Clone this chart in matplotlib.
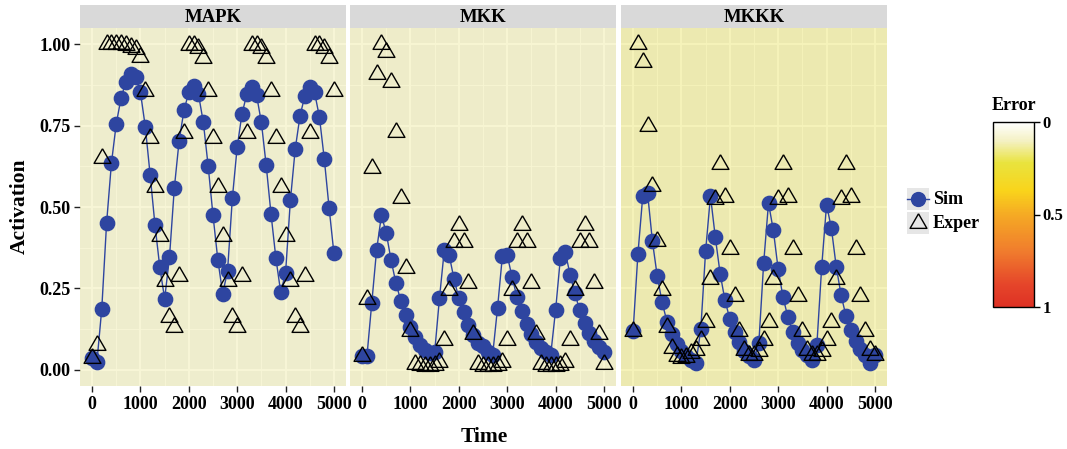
import numpy as np
import matplotlib
matplotlib.use("Agg")
import matplotlib.pyplot as plt
from matplotlib.colors import LinearSegmentedColormap, Normalize
from matplotlib.patches import Rectangle
from matplotlib.lines import Line2D
from matplotlib.cm import ScalarMappable

# sampling grid (every 100 time units)
time = np.arange(0, 5100, 100)

panel_names = ["MAPK", "MKK", "MKKK"]
panel_error = [0.12, 0.125, 0.17]

mapk_sim = [0.036, 0.024, 0.187, 0.451, 0.635, 0.756, 0.836, 0.885, 0.908, 0.900,
            0.852, 0.747, 0.599, 0.445, 0.315, 0.218, 0.345, 0.558, 0.704, 0.797,
            0.853, 0.872, 0.846, 0.760, 0.626, 0.474, 0.338, 0.234, 0.302, 0.527,
            0.684, 0.787, 0.847, 0.870, 0.844, 0.760, 0.628, 0.478, 0.343, 0.238,
            0.297, 0.520, 0.678, 0.781, 0.842, 0.869, 0.852, 0.777, 0.649, 0.498, 0.358]
mapk_exp = [0.035, 0.075, 0.650, 1.000, 1.000, 1.000, 1.000, 0.997, 0.993, 0.985,
            0.960, 0.857, 0.711, 0.561, 0.412, 0.274, 0.163, 0.130, 0.287, 0.727,
            0.999, 0.997, 0.990, 0.957, 0.857, 0.711, 0.561, 0.412, 0.274, 0.163,
            0.130, 0.287, 0.727, 0.999, 0.997, 0.990, 0.957, 0.857, 0.711, 0.561,
            0.412, 0.274, 0.163, 0.130, 0.287, 0.727, 0.999, 0.997, 0.990, 0.957, 0.857]

mkk_sim = [0.041, 0.041, 0.205, 0.368, 0.474, 0.420, 0.336, 0.266, 0.212, 0.167,
           0.130, 0.100, 0.077, 0.061, 0.051, 0.053, 0.220, 0.368, 0.353, 0.279,
           0.220, 0.176, 0.138, 0.107, 0.082, 0.072, 0.056, 0.046, 0.189, 0.348,
           0.353, 0.285, 0.225, 0.179, 0.140, 0.110, 0.084, 0.067, 0.053, 0.046,
           0.182, 0.343, 0.363, 0.292, 0.235, 0.182, 0.143, 0.113, 0.087, 0.070, 0.056]
mkk_exp = [0.043, 0.218, 0.619, 0.908, 1.000, 0.977, 0.883, 0.730, 0.529, 0.312,
           0.118, 0.017, 0.013, 0.010, 0.010, 0.015, 0.025, 0.092, 0.245, 0.392,
           0.445, 0.392, 0.268, 0.110, 0.017, 0.012, 0.010, 0.010, 0.015, 0.025,
           0.092, 0.245, 0.392, 0.445, 0.392, 0.268, 0.110, 0.017, 0.012, 0.010,
           0.010, 0.015, 0.025, 0.092, 0.245, 0.392, 0.445, 0.392, 0.268, 0.110, 0.017]

mkkk_sim = [0.118, 0.356, 0.534, 0.542, 0.394, 0.287, 0.207, 0.148, 0.110, 0.079,
            0.058, 0.043, 0.031, 0.020, 0.125, 0.366, 0.534, 0.407, 0.295, 0.213,
            0.156, 0.115, 0.084, 0.059, 0.043, 0.031, 0.082, 0.328, 0.512, 0.428,
            0.309, 0.223, 0.162, 0.116, 0.082, 0.061, 0.046, 0.031, 0.077, 0.317,
            0.507, 0.435, 0.317, 0.230, 0.166, 0.121, 0.089, 0.064, 0.046, 0.020, 0.046]
mkkk_exp = [0.120, 1.000, 0.945, 0.750, 0.563, 0.397, 0.246, 0.131, 0.067, 0.043,
            0.036, 0.040, 0.050, 0.060, 0.092, 0.148, 0.280, 0.525, 0.632, 0.532,
            0.370, 0.227, 0.118, 0.061, 0.046, 0.045, 0.058, 0.092, 0.148, 0.280,
            0.525, 0.632, 0.532, 0.370, 0.227, 0.118, 0.061, 0.046, 0.045, 0.058,
            0.092, 0.148, 0.280, 0.525, 0.632, 0.532, 0.370, 0.227, 0.118, 0.061, 0.046]

sims = [mapk_sim, mkk_sim, mkkk_sim]
exps = [mapk_exp, mkk_exp, mkkk_exp]

plt.rcParams['font.family'] = ['Liberation Serif', 'DejaVu Serif']
plt.rcParams['font.weight'] = 'bold'

err_cmap = LinearSegmentedColormap.from_list(
    'err', [(0.0, '#FFFFFF'), (0.1, '#F4F1C4'), (0.22, '#E9E33E'), (0.37, '#F9D41B'),
            (0.5, '#F5AA24'), (0.7, '#F07C2D'), (0.88, '#E5452A'), (1.0, '#DE3124')])

W, H = 1067, 449
fig = plt.figure(figsize=(W / 100, H / 100), dpi=100)

blue = '#2E45A0'
tri = [(0, 0.577), (-0.5, -0.289), (0.5, -0.289), (0, 0.577)]
lefts = [80, 350, 621]
pw = 266

for i, name in enumerate(panel_names):
    ax = fig.add_axes([lefts[i] / W, 1 - 386 / H, pw / W, 358 / H])
    ax.set_facecolor('#EBEBEB')
    ax.set_xlim(-250, 5250)
    ax.set_ylim(-0.05, 1.05)
    ax.set_xticks([0, 1000, 2000, 3000, 4000, 5000])
    ax.set_xticks([500, 1500, 2500, 3500, 4500], minor=True)
    ax.set_yticks([0, 0.25, 0.5, 0.75, 1.0])
    ax.set_yticks([0.125, 0.375, 0.625, 0.875], minor=True)
    ax.set_axisbelow(True)
    ax.grid(which='major', color='white', lw=1.3)
    ax.grid(which='minor', color='white', lw=0.6)
    for s in ax.spines.values():
        s.set_visible(False)
    ax.tick_params(which='minor', length=0)
    ax.tick_params(which='major', length=4, width=1, color='#222222',
                   labelsize=13, pad=3)
    if i == 0:
        ax.set_yticklabels(['0.00', '0.25', '0.50', '0.75', '1.00'])
    else:
        ax.tick_params(axis='y', length=0, labelleft=False)
    # error tint over the panel
    ax.add_patch(Rectangle((0, 0), 1, 1, transform=ax.transAxes,
                           facecolor=err_cmap(panel_error[i]), alpha=0.5,
                           lw=0, zorder=1))
    ax.plot(time, sims[i], '-', color=blue, lw=1.0, zorder=2)
    ax.plot(time, sims[i], 'o', color=blue, ms=10.3, mec=blue, zorder=3)
    ax.plot(time, exps[i], ls='none', marker=tri, ms=14, mfc='none',
            mec='black', mew=1.0, zorder=4)

    sax = fig.add_axes([lefts[i] / W, 1 - 28 / H, pw / W, 23 / H])
    sax.set_facecolor('#D9D9D9')
    sax.set_xticks([])
    sax.set_yticks([])
    for s in sax.spines.values():
        s.set_visible(False)
    sax.text(0.5, 0.45, name, transform=sax.transAxes, ha='center', va='center',
             fontsize=13.5, fontweight='bold')

fig.text(484 / W, 1 - 437 / H, 'Time', ha='center', va='center',
         fontsize=15.5, fontweight='bold')
fig.text(20 / W, 1 - 206 / H, 'Activation', ha='center', va='center',
         rotation=90, fontsize=15.5, fontweight='bold')

# legend (drawn in pixel space)
lax = fig.add_axes([0, 0, 1, 1])
lax.set_xlim(0, W)
lax.set_ylim(H, 0)
lax.axis('off')
lax.patch.set_alpha(0)
for yc in (199, 223):
    lax.add_patch(Rectangle((907, yc - 11), 22, 22, facecolor='#E6E6E6', lw=0))
lax.add_line(Line2D([907, 929], [199, 199], color=blue, lw=1.0))
lax.plot([918], [199], 'o', color=blue, ms=10)
lax.plot([918], [223], ls='none', marker=tri, ms=14, mfc='none', mec='black', mew=1.0)
lax.text(933, 199, 'Sim', ha='left', va='center', fontsize=13, fontweight='bold')
lax.text(933, 223, 'Exper', ha='left', va='center', fontsize=13, fontweight='bold')

# colorbar
cax = fig.add_axes([993 / W, 1 - 307 / H, 41 / W, 185 / H])
sm = ScalarMappable(norm=Normalize(0, 1), cmap=err_cmap)
cb = fig.colorbar(sm, cax=cax)
cax.invert_yaxis()
cb.set_ticks([0, 0.5, 1])
cb.set_ticklabels(['0', '0.5', '1'])
cb.outline.set_linewidth(1.0)
cax.tick_params(length=4, width=1, labelsize=12, pad=2)
cax.set_title('Error', fontsize=13, fontweight='bold', pad=9)

fig.savefig('out.png', dpi=100)
